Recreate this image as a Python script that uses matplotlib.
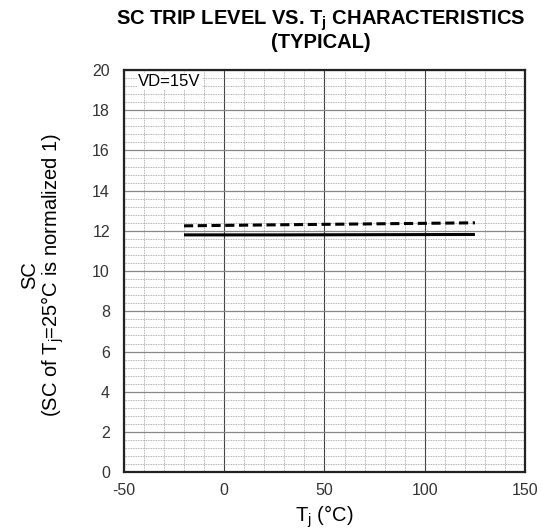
import numpy as np
import matplotlib
matplotlib.use('Agg')
import matplotlib.pyplot as plt
from matplotlib.ticker import MultipleLocator

plt.rcParams['font.family'] = ['Liberation Sans', 'DejaVu Sans']
plt.rcParams['mathtext.fontset'] = 'custom'
plt.rcParams['mathtext.rm'] = 'Liberation Sans'
plt.rcParams['mathtext.it'] = 'Liberation Sans'
plt.rcParams['mathtext.bf'] = 'Liberation Sans:bold'
plt.rcParams['axes.unicode_minus'] = False

# data
tj = [-20, 25, 125]
sc_solid = [11.8, 11.8, 11.82]
sc_dashed = [12.25, 12.3, 12.4]

x_ticks = [-50, 0, 50, 100, 150]
y_ticks = [0, 2, 4, 6, 8, 10, 12, 14, 16, 18, 20]

fig = plt.figure(figsize=(5.43, 5.30), dpi=100)
ax = fig.add_axes([0.228, 0.109, 0.739, 0.759])

ax.set_xlim(-50, 150)
ax.set_ylim(0, 20)
ax.set_xticks(x_ticks)
ax.set_yticks(y_ticks)
ax.xaxis.set_minor_locator(MultipleLocator(10))
ax.yaxis.set_minor_locator(MultipleLocator(0.4))

ax.grid(which='minor', color='#999999', linestyle=(0, (1, 1)), linewidth=0.6)
ax.grid(which='major', axis='x', color='#444444', linestyle='-', linewidth=0.8)
ax.grid(which='major', axis='y', color='#888888', linestyle='-', linewidth=0.9)
ax.set_axisbelow(True)

ax.tick_params(which='both', length=0, labelsize=11.5, labelcolor='#333333')
ax.tick_params(axis='x', pad=8)
ax.tick_params(axis='y', pad=10)
for s in ax.spines.values():
    s.set_linewidth(1.6)
    s.set_color('#222222')

ax.plot(tj, sc_solid, color='black', linewidth=2.2, solid_capstyle='butt')
ax.plot(tj, sc_dashed, color='black', linewidth=2.2, linestyle=(0, (3, 1.5)))

ax.text(-43, 19.8, 'VD=15V', fontsize=12, va='top', ha='left',
        bbox=dict(facecolor='white', edgecolor='none', pad=1))

ax.set_xlabel(r'T$_\mathregular{j}$ (°C)', fontsize=14.5, labelpad=4)
ax.set_ylabel('SC\n' + r'(SC of T$_\mathregular{j}$=25°C is normalized 1)',
              fontsize=14.5, linespacing=1.0)
ax.yaxis.set_label_coords(-0.145, 0.49)
fig.text(0.59, 0.943, r'SC TRIP LEVEL VS. T$_\mathregular{j}$ CHARACTERISTICS' + '\n(TYPICAL)',
         fontsize=14.5, fontweight='bold', ha='center', va='center', linespacing=1.0)

fig.savefig('out.png', dpi=100)
